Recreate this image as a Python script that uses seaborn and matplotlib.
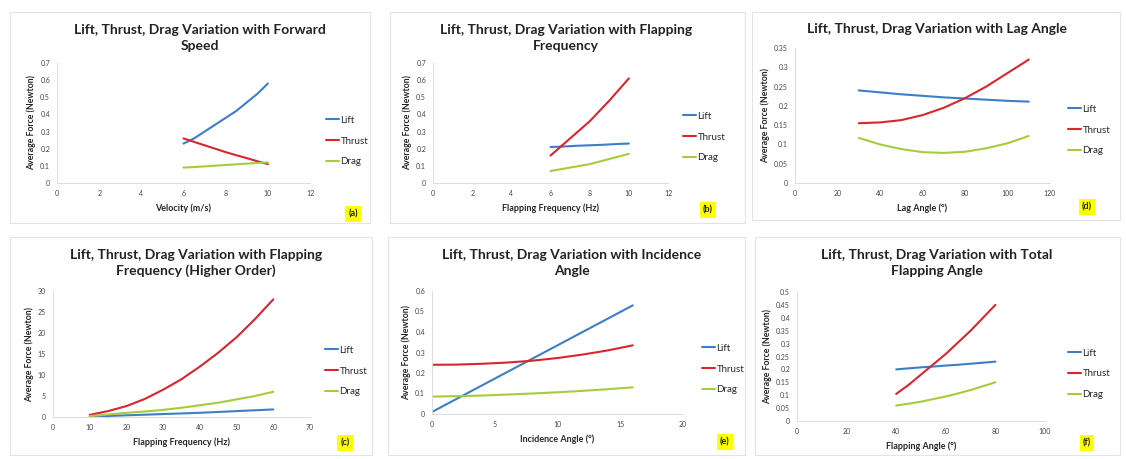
import matplotlib
matplotlib.use("Agg")
import matplotlib.pyplot as plt
import seaborn as sns
import pandas as pd
from matplotlib.patches import Rectangle

sns.set_theme(style="white")
plt.rcParams['font.family'] = ['Lato', 'DejaVu Sans']

W, H = 1126, 459
SERIES = ["Lift", "Thrust", "Drag"]
COLORS = {"Lift": "#3C7FC8", "Thrust": "#D9262E", "Drag": "#A6CC3C"}

# (a) forward speed
a_x = [6, 6.5, 7, 7.5, 8, 8.5, 9, 9.5, 10]
a_lift = [0.23, 0.26, 0.30, 0.34, 0.38, 0.42, 0.47, 0.52, 0.58]
a_thrust = [0.26, 0.24, 0.22, 0.20, 0.18, 0.162, 0.145, 0.127, 0.11]
a_drag = [0.09, 0.093, 0.097, 0.101, 0.105, 0.109, 0.113, 0.117, 0.12]

# (b) flapping frequency
b_x = [6, 6.5, 7, 7.5, 8, 8.5, 9, 9.5, 10]
b_lift = [0.21, 0.212, 0.215, 0.218, 0.22, 0.222, 0.225, 0.228, 0.23]
b_thrust = [0.16, 0.21, 0.26, 0.31, 0.36, 0.42, 0.48, 0.545, 0.61]
b_drag = [0.07, 0.08, 0.09, 0.10, 0.11, 0.125, 0.14, 0.155, 0.17]

# (d) lag angle
d_x = [30, 40, 50, 60, 70, 80, 90, 100, 110]
d_lift = [0.24, 0.235, 0.23, 0.226, 0.222, 0.219, 0.216, 0.213, 0.211]
d_thrust = [0.155, 0.157, 0.163, 0.176, 0.195, 0.22, 0.25, 0.285, 0.32]
d_drag = [0.117, 0.10, 0.088, 0.080, 0.078, 0.081, 0.09, 0.103, 0.122]

# (c) flapping frequency (higher order)
c_x = [10, 15, 20, 25, 30, 35, 40, 45, 50, 55, 60]
c_lift = [0.1, 0.25, 0.4, 0.55, 0.7, 0.85, 1.0, 1.2, 1.4, 1.6, 1.8]
c_thrust = [0.5, 1.4, 2.6, 4.3, 6.5, 9.0, 12.0, 15.3, 19.0, 23.3, 28.0]
c_drag = [0.2, 0.6, 1.0, 1.3, 1.7, 2.2, 2.8, 3.4, 4.2, 5.0, 6.0]

# (e) incidence angle
e_x = [0, 2, 4, 6, 8, 10, 12, 14, 16]
e_lift = [0.01, 0.075, 0.14, 0.205, 0.27, 0.335, 0.40, 0.465, 0.53]
e_thrust = [0.24, 0.241, 0.245, 0.251, 0.26, 0.273, 0.29, 0.31, 0.335]
e_drag = [0.085, 0.087, 0.09, 0.095, 0.10, 0.106, 0.113, 0.121, 0.13]

# (f) total flapping angle
f_x = [40, 45, 50, 55, 60, 65, 70, 75, 80]
f_lift = [0.20, 0.204, 0.208, 0.211, 0.215, 0.218, 0.222, 0.226, 0.23]
f_thrust = [0.105, 0.14, 0.18, 0.22, 0.26, 0.305, 0.35, 0.40, 0.45]
f_drag = [0.06, 0.067, 0.075, 0.085, 0.095, 0.107, 0.12, 0.135, 0.15]

panels = [
    dict(title="Lift, Thrust, Drag Variation with Forward\nSpeed", xlabel="Velocity (m/s)",
         x=a_x, vals=(a_lift, a_thrust, a_drag), xlim=(0, 12), xticks=range(0, 13, 2),
         ylim=(0, 0.7), yticks=[0, 0.1, 0.2, 0.3, 0.4, 0.5, 0.6, 0.7],
         ax_px=(57, 63, 310, 183), title_px=(200, 38), box=(10, 12, 370, 223),
         leg_px=(326, 141), tag="(a)", tag_px=(353, 214)),
    dict(title="Lift, Thrust, Drag Variation with Flapping\nFrequency", xlabel="Flapping Frequency (Hz)",
         x=b_x, vals=(b_lift, b_thrust, b_drag), xlim=(0, 12), xticks=range(0, 13, 2),
         ylim=(0, 0.7), yticks=[0, 0.1, 0.2, 0.3, 0.4, 0.5, 0.6, 0.7],
         ax_px=(433, 63, 668, 183), title_px=(566, 38), box=(390, 12, 745, 223),
         leg_px=(683, 137), tag="(b)", tag_px=(708, 210)),
    dict(title="Lift, Thrust, Drag Variation with Lag Angle", xlabel="Lag Angle (°)",
         x=d_x, vals=(d_lift, d_thrust, d_drag), xlim=(0, 120), xticks=range(0, 121, 20),
         ylim=(0, 0.35), yticks=[0, 0.05, 0.1, 0.15, 0.2, 0.25, 0.3, 0.35],
         ax_px=(795, 48, 1050, 183), title_px=(937, 29), box=(752, 12, 1120, 220),
         leg_px=(1068, 130), tag="(d)", tag_px=(1087, 207)),
    dict(title="Lift, Thrust, Drag Variation with Flapping\nFrequency (Higher Order)", xlabel="Flapping Frequency (Hz)",
         x=c_x, vals=(c_lift, c_thrust, c_drag), xlim=(0, 70), xticks=range(0, 71, 10),
         ylim=(0, 30), yticks=range(0, 31, 5),
         ax_px=(53, 291, 310, 417), title_px=(196, 263), box=(10, 237, 372, 455),
         leg_px=(325, 371), tag="(c)", tag_px=(345, 443)),
    dict(title="Lift, Thrust, Drag Variation with Incidence\nAngle", xlabel="Incidence Angle (°)",
         x=e_x, vals=(e_lift, e_thrust, e_drag), xlim=(0, 20), xticks=range(0, 21, 5),
         ylim=(0, 0.6), yticks=[0, 0.1, 0.2, 0.3, 0.4, 0.5, 0.6],
         ax_px=(432, 291, 683, 414), title_px=(572, 263), box=(388, 237, 745, 455),
         leg_px=(702, 369), tag="(e)", tag_px=(725, 442)),
    dict(title="Lift, Thrust, Drag Variation with Total\nFlapping Angle", xlabel="Flapping Angle (°)",
         x=f_x, vals=(f_lift, f_thrust, f_drag), xlim=(0, 100), xticks=range(0, 101, 20),
         ylim=(0, 0.5), yticks=[0, 0.05, 0.1, 0.15, 0.2, 0.25, 0.3, 0.35, 0.4, 0.45, 0.5],
         ax_px=(797, 292, 1045, 421), title_px=(937, 263), box=(755, 237, 1120, 455),
         leg_px=(1068, 374), tag="(f)", tag_px=(1087, 443)),
]

fig = plt.figure(figsize=(W / 100, H / 100), dpi=100)
fig.patch.set_facecolor("white")


def fx(px):
    return px / W


def fy(py):
    return 1 - py / H


def fmt(v):
    return "%g" % v


for p in panels:
    bx0, by0, bx1, by1 = p["box"]
    fig.patches.append(Rectangle((fx(bx0), fy(by1)), fx(bx1 - bx0), (by1 - by0) / H,
                                 transform=fig.transFigure, fill=False,
                                 edgecolor="#E4E4E4", linewidth=0.8, zorder=0))
    x0, y0, x1, y1 = p["ax_px"]
    ax = fig.add_axes([fx(x0), fy(y1), fx(x1 - x0), (y1 - y0) / H])
    rows = []
    for name, vals in zip(SERIES, p["vals"]):
        for xv, yv in zip(p["x"], vals):
            rows.append({"x": xv, "y": yv, "series": name})
    df = pd.DataFrame(rows)
    sns.lineplot(data=df, x="x", y="y", hue="series", hue_order=SERIES,
                 palette=COLORS, ax=ax, linewidth=1.5, legend=True)
    ax.set_xlim(*p["xlim"])
    ax.set_ylim(*p["ylim"])
    ax.set_xticks(list(p["xticks"]))
    ax.set_yticks(list(p["yticks"]))
    ax.set_xticklabels([fmt(v) for v in p["xticks"]], fontsize=5, color="#444444")
    ax.set_yticklabels([fmt(v) for v in p["yticks"]], fontsize=5, color="#444444")
    ax.tick_params(axis="both", length=0, pad=5)
    ax.set_xlabel(p["xlabel"], fontsize=6.5, fontweight="bold", labelpad=5)
    ax.set_ylabel("Average Force (Newton)", fontsize=6.3, fontweight="bold", labelpad=3)
    for s in ["top", "right"]:
        ax.spines[s].set_visible(False)
    for s in ["left", "bottom"]:
        ax.spines[s].set_color("#DDDDDD")
        ax.spines[s].set_linewidth(0.7)
    ax.set_facecolor("white")
    ax.grid(False)
    lx, ly = p["leg_px"]
    ax.legend(loc="center left", bbox_to_anchor=(fx(lx), fy(ly)),
              bbox_transform=fig.transFigure, frameon=False, fontsize=7,
              handlelength=1.3, handletextpad=0.2, labelspacing=1.2,
              borderpad=0, borderaxespad=0)
    tx, ty = p["title_px"]
    fig.text(fx(tx), fy(ty), p["title"], ha="center", va="center",
             fontsize=10, fontweight="bold", color="#222222", linespacing=1.35)
    gx, gy = p["tag_px"]
    fig.text(fx(gx), fy(gy), p["tag"], ha="center", va="center", fontsize=6.5,
             fontweight="bold", color="#222222",
             bbox=dict(boxstyle="square,pad=0.35", facecolor="#FFFF00",
                       edgecolor="none"))

fig.savefig("out.png", dpi=100, facecolor="white")
